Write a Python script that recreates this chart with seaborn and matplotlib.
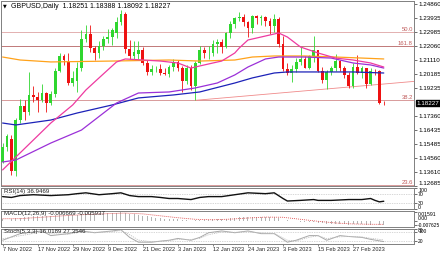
import matplotlib
matplotlib.use("Agg")
import matplotlib.pyplot as plt
import matplotlib.transforms as mtransforms
import numpy as np
import seaborn as sns

sns.set_theme(style="white")
plt.rcParams['font.family'] = ['Liberation Sans', 'DejaVu Sans']

# ---------------- data ----------------
opens = [
    1.1430, 1.1530, 1.1580, 1.1365, 1.1710, 1.1800, 1.1760, 1.1880, 1.1865, 1.1845,
    1.1890, 1.1825, 1.1885, 1.2040, 1.2140, 1.2100, 1.1960, 1.1970, 1.2060, 1.2250,
    1.2285, 1.2190, 1.2155, 1.2205, 1.2250, 1.2265, 1.2290, 1.2365, 1.2420, 1.2185,
    1.2140, 1.2150, 1.2175, 1.2090, 1.2030, 1.2050, 1.2052, 1.2025, 1.2020, 1.2065,
    1.2095, 1.2060, 1.1970, 1.2055, 1.1935, 1.2090, 1.2180, 1.2155, 1.2160, 1.2215,
    1.2230, 1.2200, 1.2290, 1.2355, 1.2390, 1.2398, 1.2365, 1.2325, 1.2405, 1.2395,
    1.2400, 1.2375, 1.2340, 1.2385, 1.2220, 1.2052, 1.2022, 1.2048, 1.2095, 1.2120,
    1.2060, 1.2135, 1.2175, 1.2040, 1.1975, 1.2030, 1.2060, 1.2105, 1.2060, 1.2010,
    1.1940, 1.2066, 1.2025, 1.2055, 1.1950, 1.2040, 1.2035, 1.18251]
closes = [
    1.1530, 1.1600, 1.1365, 1.1710, 1.1800, 1.1760, 1.1880, 1.1865, 1.1845, 1.1890,
    1.1825, 1.1885, 1.2040, 1.2140, 1.2110, 1.1960, 1.1990, 1.2060, 1.2250, 1.2285,
    1.2190, 1.2155, 1.2205, 1.2250, 1.2265, 1.2310, 1.2365, 1.2420, 1.2185, 1.2140,
    1.2165, 1.2175, 1.2090, 1.2030, 1.2050, 1.2053, 1.2025, 1.2020, 1.2065, 1.2095,
    1.2060, 1.1970, 1.2055, 1.1935, 1.2090, 1.2180, 1.2155, 1.2160, 1.2215, 1.2230,
    1.2200, 1.2290, 1.2355, 1.2390, 1.2398, 1.2365, 1.2325, 1.2405, 1.2395, 1.2400,
    1.2375, 1.2340, 1.2385, 1.2220, 1.2052, 1.2022, 1.2048, 1.2095, 1.2120, 1.2060,
    1.2135, 1.2175, 1.2040, 1.1975, 1.2030, 1.2060, 1.2105, 1.2060, 1.2010, 1.1940,
    1.2066, 1.2025, 1.2055, 1.1950, 1.2040, 1.2035, 1.1823, 1.18227]
highs = [
    1.1555, 1.1615, 1.1610, 1.1720, 1.1850, 1.1840, 1.2028, 1.1935, 1.1900, 1.1950,
    1.1900, 1.1905, 1.2060, 1.2155, 1.2150, 1.2155, 1.2040, 1.2095, 1.2310, 1.2345,
    1.2345, 1.2205, 1.2240, 1.2275, 1.2320, 1.2325, 1.2400, 1.2446, 1.2430, 1.2245,
    1.2240, 1.2240, 1.2195, 1.2110, 1.2080, 1.2070, 1.2085, 1.2060, 1.2075, 1.2120,
    1.2110, 1.2070, 1.2080, 1.2075, 1.2105, 1.2205, 1.2195, 1.2205, 1.2245, 1.2250,
    1.2250, 1.2300, 1.2375, 1.2400, 1.2435, 1.2420, 1.2375, 1.2415, 1.2415, 1.2415,
    1.2405, 1.2395, 1.2418, 1.2400, 1.2270, 1.2090, 1.2075, 1.2125, 1.2195, 1.2140,
    1.2145, 1.2270, 1.2180, 1.2065, 1.2045, 1.2070, 1.2148, 1.2110, 1.2070, 1.2030,
    1.2090, 1.2145, 1.2070, 1.2060, 1.2055, 1.2048, 1.2045, 1.18388]
lows = [
    1.1420, 1.1500, 1.1340, 1.1335, 1.1690, 1.1710, 1.1745, 1.1830, 1.1765, 1.1830,
    1.1765, 1.1810, 1.1860, 1.2030, 1.2080, 1.1945, 1.1935, 1.1900, 1.2040, 1.2230,
    1.2165, 1.2110, 1.2125, 1.2180, 1.2225, 1.2210, 1.2255, 1.2345, 1.2160, 1.2115,
    1.2120, 1.2120, 1.2075, 1.2010, 1.2010, 1.2030, 1.2010, 1.2010, 1.2000, 1.2040,
    1.2040, 1.1900, 1.1950, 1.1910, 1.1841, 1.2085, 1.2125, 1.2120, 1.2140, 1.2160,
    1.2160, 1.2190, 1.2255, 1.2325, 1.2375, 1.2340, 1.2263, 1.2290, 1.2355, 1.2345,
    1.2340, 1.2285, 1.2300, 1.2200, 1.2040, 1.2010, 1.1961, 1.2030, 1.2080, 1.2055,
    1.2050, 1.2100, 1.2030, 1.1960, 1.1915, 1.2010, 1.2040, 1.2035, 1.1990, 1.1925,
    1.1925, 1.2015, 1.1990, 1.1925, 1.1945, 1.2010, 1.1818, 1.18092]

# moving averages (bar index, price)
ma200_idx = [0, 4, 11, 25, 38, 45, 53, 57, 62, 69, 76, 82, 87]
ma200_val = [1.2131, 1.2111, 1.2098, 1.2104, 1.2111, 1.2104, 1.2111, 1.2131, 1.2138, 1.2138, 1.2131, 1.2124, 1.2118]
ma20_idx = [0, 11, 16, 19, 22, 26, 28, 32, 36, 40, 43, 45, 48, 50, 53, 54, 56, 59, 63, 65, 68, 72, 76, 80, 84, 87]
ma20_val = [1.1375, 1.1689, 1.1810, 1.1910, 1.1991, 1.2098, 1.2118, 1.2111, 1.2104, 1.2091, 1.2057, 1.2071, 1.2091,
            1.2104, 1.2158, 1.2191, 1.2245, 1.2265, 1.2292, 1.2265, 1.2198, 1.2158, 1.2124, 1.2111, 1.2091, 1.2064]
ma50_idx = [0, 3, 11, 18, 26, 31, 38, 44, 49, 53, 56, 60, 63, 69, 75, 80, 84, 87]
ma50_val = [1.1428, 1.1441, 1.1555, 1.1642, 1.1823, 1.1890, 1.1897, 1.1924, 1.1957, 1.2011, 1.2064, 1.2118, 1.2131,
            1.2131, 1.2124, 1.2091, 1.2078, 1.2057]
ma100_idx = [0, 3, 11, 17, 25, 31, 39, 45, 53, 57, 62, 65, 72, 80, 87]
ma100_val = [1.1689, 1.1676, 1.1709, 1.1756, 1.1810, 1.1857, 1.1877, 1.1897, 1.1957, 1.1991, 1.2024, 1.2031, 1.2031,
             1.2031, 1.2024]

trend_idx = [44, 94]
trend_val = [1.1841, 1.1968]

fib_levels = [1.2301, 1.2205, 1.1841, 1.1272]
fib_labels = ["50.0", "161.8", "38.2", "23.6"]

price_ticks = [1.24860, 1.23935, 1.22985, 1.22060, 1.21110, 1.20185, 1.19235,
               1.17360, 1.16435, 1.15485, 1.14560, 1.13610, 1.12685]
last_price = 1.18227

rsi_idx = [0, 2, 4, 7, 11, 15, 17, 19, 22, 25, 27, 29, 31, 34, 36, 38, 40, 43, 45, 47, 50, 53, 56, 60, 62, 64,
           65, 68, 71, 72, 75, 79, 82, 84, 85, 86, 87]
rsi_val = [59, 55, 64, 68, 64, 68, 73, 77, 68, 73, 77, 64, 59, 59, 55, 50, 50, 45, 55, 59, 59, 68, 77, 73, 77, 50,
           38, 41, 45, 41, 41, 45, 45, 50, 41, 34, 36.9469]
rsi_ticks = [100, 70, 30, 0]

macd_vals = [
    0.0030, 0.0035, 0.0030, 0.0045, 0.0060, 0.0065, 0.0075, 0.0080, 0.0085, 0.0090,
    0.0090, 0.0092, 0.0100, 0.0110, 0.0115, 0.0112, 0.0112, 0.0113, 0.0125, 0.0135,
    0.0135, 0.0130, 0.0130, 0.0132, 0.0135, 0.0137, 0.0145, 0.0159, 0.0145, 0.0130,
    0.0120, 0.0110, 0.0095, 0.0080, 0.0070, 0.0060, 0.0050, 0.0042, 0.0038, 0.0035,
    0.0030, 0.0020, 0.0018, 0.0005, 0.0012, 0.0020, 0.0022, 0.0024, 0.0030, 0.0035,
    0.0035, 0.0042, 0.0052, 0.0060, 0.0066, 0.0068, 0.0068, 0.0072, 0.0074, 0.0075,
    0.0074, 0.0070, 0.0070, 0.0058, 0.0035, 0.0015, 0.0000, -0.0008, -0.0012, -0.0020,
    -0.0022, -0.0020, -0.0030, -0.0042, -0.0048, -0.0050, -0.0048, -0.0050, -0.0054, -0.0062,
    -0.0060, -0.0060, -0.0058, -0.0064, -0.0062, -0.0060, -0.0076, -0.0067]
sig_idx = [0, 4, 8, 12, 16, 20, 24, 28, 32, 36, 40, 44, 48, 52, 56, 60, 64, 68, 72, 76, 80, 84, 87]
sig_val = [0.0040, 0.0042, 0.0062, 0.0083, 0.0103, 0.0118, 0.0130, 0.0140, 0.0126, 0.0092, 0.0058, 0.0030, 0.0022,
           0.0033, 0.0053, 0.0069, 0.0066, 0.0030, -0.0005, -0.0035, -0.0052, -0.0058, -0.0059]
macd_ticks = [0.01591, 0.0, -0.007625]
macd_tick_lbl = ["0.01591", "0.00", "-0.007625"]

sto_idx = [0, 4, 9, 11, 15, 18, 21, 25, 27, 29, 31, 34, 36, 38, 40, 43, 45, 47, 50, 53, 56, 59, 62, 65, 67, 70, 72,
           74, 77, 79, 82, 84, 87]
sto_main = [25, 69, 87, 56, 69, 87, 75, 87, 95, 44, 12, 12, 19, 25, 37, 25, 44, 75, 87, 75, 87, 69, 69, 12, 25, 56,
            56, 25, 56, 50, 44, 31, 16.0189]
sto_sig = [35, 55, 80, 68, 65, 80, 78, 82, 90, 62, 26, 15, 17, 22, 32, 30, 38, 62, 80, 78, 82, 73, 70, 25, 20, 45,
           55, 36, 48, 50, 47, 38, 27.3546]
sto_ticks = [100, 80, 20]

date_pos = [0, 8, 16, 24, 32, 40, 48, 56, 64, 72, 80]
date_lbl = ["7 Nov 2022", "17 Nov 2022", "29 Nov 2022", "9 Dec 2022", "21 Dec 2022", "3 Jan 2023",
            "12 Jan 2023", "24 Jan 2023", "3 Feb 2023", "15 Feb 2023", "27 Feb 2023"]

title = "GBPUSD,Daily  1.18251 1.18388 1.18092 1.18227"
rsi_title = "RSI(14) 36.9469"
macd_title = "MACD(12,26,9) -0.006669 -0.005937"
sto_title = "Stoch(5,3,3) 16.0189 27.3546"

# ---------------- figure ----------------
W, H = 440, 254
fig = plt.figure(figsize=(W / 100, H / 100), dpi=100)
fig.patch.set_facecolor("white")


def add_ax(l, t, r, b):
    return fig.add_axes([l / W, 1 - b / H, (r - l) / W, (b - t) / H])


ax = add_ax(1, 1, 414, 186)
ax_rsi = add_ax(1, 188, 414, 209)
ax_macd = add_ax(1, 211, 414, 227)
ax_sto = add_ax(1, 229, 414, 244)

XL = (-0.37, 93.9)
TS = 4.5
for a in (ax, ax_rsi, ax_macd, ax_sto):
    a.set_xlim(*XL)
    a.set_facecolor("white")
    for s in a.spines.values():
        s.set_color("#808080")
        s.set_linewidth(0.7)
    a.yaxis.tick_right()
    a.tick_params(axis="y", labelsize=TS, length=2, width=0.4, pad=1, colors="black", direction="out")
    a.tick_params(axis="x", bottom=False, labelbottom=False)
    a.grid(False)

GREEN = "#2fd62f"
RED = "#ee1111"

o = np.array(opens); c = np.array(closes); h = np.array(highs); lo = np.array(lows)
x = np.arange(len(c))
up = c >= o
cols = np.where(up, GREEN, RED)
ax.vlines(x, lo, h, colors=cols, lw=0.6, zorder=3)
body = np.maximum(np.abs(c - o), 0.00035)
ax.bar(x, body, bottom=np.minimum(o, c), width=0.62, color=cols, linewidth=0, zorder=4)

# fib / horizontal levels
blend = mtransforms.blended_transform_factory(ax.transAxes, ax.transData)
fib_cols = ["#e3b0b0", "#c07878", "#d89a9a", "#d89a9a"]
for lv, lb, fc in zip(fib_levels, fib_labels, fib_cols):
    ax.axhline(lv, color=fc, lw=0.7, zorder=1)
    ax.text(0.997, lv, lb, transform=blend, ha="right", va="bottom", fontsize=4.2, color="#c05a5a")

# trendline
sns.lineplot(x=trend_idx, y=trend_val, ax=ax, color="#f08a8a", lw=0.6, zorder=2)

# moving averages
sns.lineplot(x=ma200_idx, y=ma200_val, ax=ax, color="#ffa21a", lw=0.9, zorder=5)
sns.lineplot(x=ma100_idx, y=ma100_val, ax=ax, color="#1c22b8", lw=0.9, zorder=5)
sns.lineplot(x=ma50_idx, y=ma50_val, ax=ax, color="#9b30d8", lw=0.9, zorder=5)
sns.lineplot(x=ma20_idx, y=ma20_val, ax=ax, color="#ee3aa0", lw=0.9, zorder=5)

ax.set_ylim(1.12673, 1.25061)
ax.set_yticks(price_ticks)
ax.set_yticklabels([f"{p:.5f}" for p in price_ticks])
ax.get_yticklabels()[-1].set_va("bottom")
ax.set_xlabel(""); ax.set_ylabel("")
ax.annotate(f"{last_price:.5f}", xy=(1.0, last_price), xycoords=blend, xytext=(2, 0),
            textcoords="offset points", ha="left", va="center", fontsize=TS, color="white",
            bbox=dict(boxstyle="square,pad=0.12", fc="black", ec="black"), annotation_clip=False)

# RSI
ax_rsi.axhline(70, color="#b0b0b0", lw=0.5, ls=(0, (1, 1.5)))
ax_rsi.axhline(30, color="#b0b0b0", lw=0.5, ls=(0, (1, 1.5)))
sns.lineplot(x=rsi_idx, y=rsi_val, ax=ax_rsi, color="#111111", lw=1.0)
ax_rsi.set_ylim(0, 100)
ax_rsi.set_yticks(rsi_ticks)
ax_rsi.set_yticklabels([str(v) for v in rsi_ticks], fontsize=3.8)
rl = ax_rsi.get_yticklabels()
rl[0].set_va("top"); rl[-1].set_va("baseline")
ax_rsi.set_xlabel(""); ax_rsi.set_ylabel("")

# MACD
ax_macd.bar(x, macd_vals, width=0.22, color="#b4b4b4", linewidth=0)
sns.lineplot(x=sig_idx, y=sig_val, ax=ax_macd, color="#e05050", lw=0.6, ls=(0, (1.2, 1.2)))
ax_macd.set_ylim(-0.0106, 0.0177)
ax_macd.set_yticks(macd_ticks)
ax_macd.set_yticklabels(macd_tick_lbl, fontsize=3.7)
ml = ax_macd.get_yticklabels()
ml[0].set_va("top"); ml[1].set_va("bottom"); ml[-1].set_va("center"); ml[-1].set_fontsize(3.5)
ax_macd.tick_params(axis="y", pad=0.6)
ax_macd.set_xlabel(""); ax_macd.set_ylabel("")

# Stochastic
ax_sto.axhline(80, color="#b0b0b0", lw=0.5, ls=(0, (1, 1.5)))
ax_sto.axhline(20, color="#b0b0b0", lw=0.5, ls=(0, (1, 1.5)))
sns.lineplot(x=sto_idx, y=sto_main, ax=ax_sto, color="#a8a8a8", lw=0.7)
sns.lineplot(x=sto_idx, y=sto_sig, ax=ax_sto, color="#c0c0c0", lw=0.6, ls=(0, (1.5, 1.2)))
ax_sto.set_ylim(0, 100)
ax_sto.set_yticks(sto_ticks)
ax_sto.set_yticklabels([str(v) for v in sto_ticks], fontsize=3.5)
sl = ax_sto.get_yticklabels()
sl[0].set_va("top"); sl[1].set_va("baseline")
ax_sto.set_xlabel(""); ax_sto.set_ylabel("")
ax_sto.set_xticks(date_pos)
ax_sto.set_xticklabels(date_lbl)
ax_sto.tick_params(axis="x", bottom=True, labelbottom=True, labelsize=4.1, length=1.5, width=0.4, pad=1)
for t in ax_sto.get_xticklabels():
    t.set_ha("left")

# texts
fig.text(3 / W, 1 - 6 / H, "▼", fontsize=3.5, color="black", va="center", ha="left",
         family=["DejaVu Sans"])
fig.text(11 / W, 1 - 6 / H, title, fontsize=5.0, color="black", va="center", ha="left")
fig.text(4 / W, 1 - 192 / H, rsi_title, fontsize=4.4, color="#202020", va="center", ha="left")
fig.text(4 / W, 1 - 214 / H, macd_title, fontsize=4.4, color="#202020", va="center", ha="left")
fig.text(4 / W, 1 - 231.5 / H, sto_title, fontsize=4.4, color="#202020", va="center", ha="left")

fig.savefig("out.png", dpi=100)
